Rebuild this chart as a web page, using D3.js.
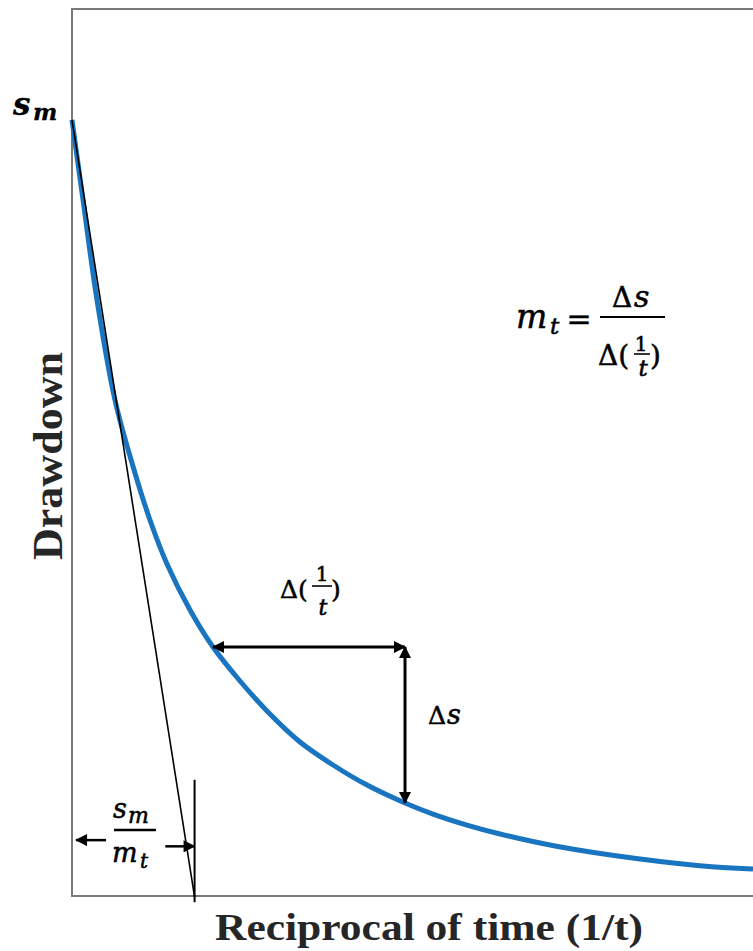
<!DOCTYPE html>
<html>
<head>
<meta charset="utf-8">
<script src="https://cdn.jsdelivr.net/npm/d3@7"></script>
<style>
  html, body { margin: 0; padding: 0; background: #fff; }
  svg { display: block; }
</style>
</head>
<body>
<svg id="chart" width="753" height="951"></svg>
<script>
// drawdown curve (1/t on x, drawdown on y), 0..100 units
var recipTime = [0, 1.62, 3.67, 6.31, 8.81, 11.45, 13.95, 17.33, 20.7, 24.67, 28.63, 33.48,
                 38.33, 43.32, 48.9, 53.01, 58.0, 62.85, 70.93, 83.41, 94.42, 100];
var drawdown  = [87.49, 78.47, 67.19, 55.92, 48.82, 42.39, 37.43, 32.24, 28.07, 24.24, 20.86, 17.36,
                 14.77, 12.51, 10.49, 9.24, 8.0, 6.99, 5.64, 4.17, 3.27, 3.04];

// straight line tangent at the start, hitting the axis at s_m / m_t
var tangentX = [0, 18.0];
var tangentY = [87.49, -0.1];

// the step used for the slope: delta(1/t) and delta s
var stepX = [20.7, 48.9];
var stepY = [28.07, 10.49];

// intercept marker and its dimension arrows
var interceptX = 18.0;
var markerY = [13.1, -0.7];
var leftArrowX = [5.0, 0.6], leftArrowY = 6.3;
var rightArrowX = [13.7, 18.0], rightArrowY = 5.6;

var svg = d3.select("#chart"),
    width = +svg.attr("width"),
    height = +svg.attr("height");

var x = d3.scaleLinear().domain([0, 100]).range([72, 753]);
var y = d3.scaleLinear().domain([0, 100]).range([896, 9]);

var mathFont = "'DejaVu Serif', serif";
var labelFont = "'Liberation Serif', 'Times New Roman', serif";

// arrow head
var defs = svg.append("defs");
defs.append("marker")
    .attr("id", "head")
    .attr("viewBox", "0 0 12 12")
    .attr("refX", 11)
    .attr("refY", 6)
    .attr("markerWidth", 13)
    .attr("markerHeight", 12)
    .attr("markerUnits", "userSpaceOnUse")
    .attr("orient", "auto-start-reverse")
    .append("path")
    .attr("d", "M0,0 L12,6 L0,12 z")
    .attr("fill", "#000");

// frame (right side runs off the picture)
svg.append("path")
    .attr("d", "M" + (width + 5) + "," + y(100) + " H" + x(0) + " V" + y(0) + " H" + (width + 5))
    .attr("fill", "none")
    .attr("stroke", "#7a7a7a")
    .attr("stroke-width", 2);

// curve
var line = d3.line()
    .x(function(d) { return x(d[0]); })
    .y(function(d) { return y(d[1]); })
    .curve(d3.curveCatmullRom.alpha(0.5));

svg.append("path")
    .datum(d3.zip(recipTime, drawdown))
    .attr("d", line)
    .attr("fill", "none")
    .attr("stroke", "#1a75c1")
    .attr("stroke-width", 5);

// tangent line
svg.append("line")
    .attr("x1", x(tangentX[0])).attr("y1", y(tangentY[0]))
    .attr("x2", x(tangentX[1])).attr("y2", y(tangentY[1]))
    .attr("stroke", "#000")
    .attr("stroke-width", 1.6);

// vertical marker at the intercept
svg.append("line")
    .attr("x1", x(interceptX)).attr("y1", y(markerY[0]))
    .attr("x2", x(interceptX)).attr("y2", y(markerY[1]))
    .attr("stroke", "#000")
    .attr("stroke-width", 2);

function arrow(x1, y1, x2, y2, w, both) {
    var l = svg.append("line")
        .attr("x1", x1).attr("y1", y1)
        .attr("x2", x2).attr("y2", y2)
        .attr("stroke", "#000")
        .attr("stroke-width", w)
        .attr("marker-end", "url(#head)");
    if (both) l.attr("marker-start", "url(#head)");
    return l;
}

// delta(1/t) and delta s arrows
arrow(x(stepX[0]), y(stepY[0]), x(stepX[1]), y(stepY[0]), 3, true);
arrow(x(stepX[1]), y(stepY[0]), x(stepX[1]), y(stepY[1]), 3, true);

// s_m / m_t dimension arrows
arrow(x(leftArrowX[0]), y(leftArrowY), x(leftArrowX[1]), y(leftArrowY), 2.5, false);
arrow(x(rightArrowX[0]), y(rightArrowY), x(rightArrowX[1]), y(rightArrowY), 2.5, false);

function txt(px, py, s, size, opts) {
    opts = opts || {};
    return svg.append("text")
        .attr("x", px).attr("y", py)
        .attr("font-family", opts.family || mathFont)
        .attr("font-size", size)
        .attr("font-style", opts.italic ? "italic" : "normal")
        .attr("font-weight", opts.bold ? "bold" : "normal")
        .attr("text-anchor", opts.anchor || "start")
        .attr("fill", "#000")
        .attr("stroke", "#000")
        .attr("stroke-width", opts.bold ? 0.3 : 0.55)
        .text(s);
}

function bar(x1, x2, py, w) {
    svg.append("line")
        .attr("x1", x1).attr("x2", x2)
        .attr("y1", py).attr("y2", py)
        .attr("stroke", "#000")
        .attr("stroke-width", w);
}

// s_m on the y axis
txt(13, 115, "s", 31, {italic: true, bold: true});
txt(33, 120, "m", 23, {italic: true, bold: true});

// m_t = delta s / delta(1/t)
txt(516, 328, "m", 33, {italic: true});
txt(550, 334, "t", 23, {italic: true});
txt(579, 329, "=", 30, {anchor: "middle"});
bar(600, 665, 317, 2.2);
txt(612, 307, "\u0394", 28);
txt(634, 307, "s", 30, {italic: true});
txt(598, 365, "\u0394(", 28);
txt(641, 351, "1", 20, {anchor: "middle"});
bar(634, 650, 354, 1.6);
txt(643, 376, "t", 23, {italic: true, anchor: "middle"});
txt(650, 365, ")", 28);

// delta(1/t) label
txt(280, 598, "\u0394(", 25);
txt(322, 581, "1", 20, {anchor: "middle"});
bar(312, 332, 586, 1.6);
txt(323, 615, "t", 22, {italic: true, anchor: "middle"});
txt(331, 598, ")", 25);

// delta s label
txt(428, 724, "\u0394", 25);
txt(447, 724, "s", 27, {italic: true});

// s_m / m_t label
txt(113, 818, "s", 27, {italic: true});
txt(128, 823, "m", 22, {italic: true});
bar(114, 156, 830, 2.4);
txt(112, 862, "m", 27, {italic: true});
txt(140, 868, "t", 20, {italic: true});

// axis titles
svg.append("text")
    .attr("x", 429).attr("y", 940)
    .attr("text-anchor", "middle")
    .attr("font-family", labelFont)
    .attr("font-weight", "bold")
    .attr("font-size", 38)
    .attr("fill", "#262626")
    .attr("textLength", 428)
    .attr("lengthAdjust", "spacingAndGlyphs")
    .text("Reciprocal of time (1/t)");

svg.append("text")
    .attr("transform", "translate(62,456) rotate(-90)")
    .attr("text-anchor", "middle")
    .attr("font-family", labelFont)
    .attr("font-weight", "bold")
    .attr("font-size", 42)
    .attr("fill", "#262626")
    .attr("textLength", 208)
    .attr("lengthAdjust", "spacingAndGlyphs")
    .text("Drawdown");
</script>
</body>
</html>
